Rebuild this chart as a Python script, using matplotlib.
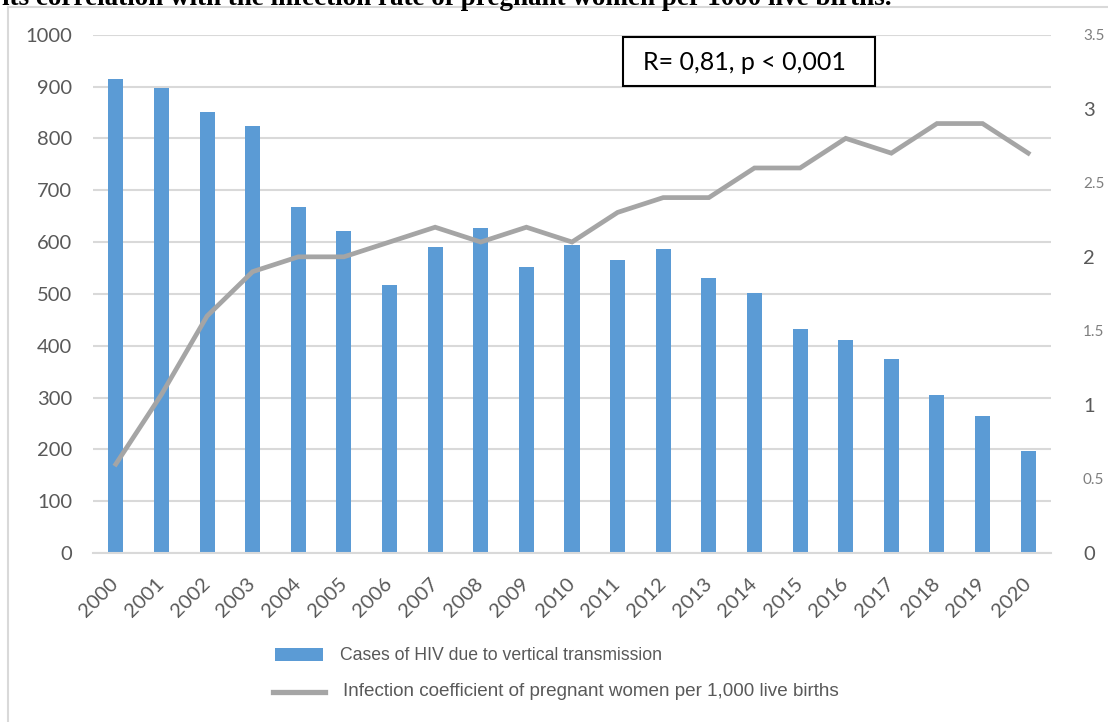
import matplotlib.pyplot as plt
from matplotlib.patches import Rectangle
from matplotlib.lines import Line2D

# data
years = [str(y) for y in range(2000, 2021)]
hiv_cases = [914, 898, 850, 824, 668, 622, 518, 590, 628, 551, 595,
             566, 586, 530, 501, 432, 410, 374, 304, 264, 196]
infection_coef = [0.6, 1.07, 1.6, 1.9, 2.0, 2.0, 2.1, 2.2, 2.1, 2.2, 2.1,
                  2.3, 2.4, 2.4, 2.6, 2.6, 2.8, 2.7, 2.9, 2.9, 2.7]
left_ticks = list(range(0, 1001, 100))
right_ticks = [0, 0.5, 1, 1.5, 2, 2.5, 3, 3.5]
right_labels = ['0', '0.5', '1', '1.5', '2', '2.5', '3', '3.5']

W, H = 1108, 722
fx = lambda px: px / W
fy = lambda py: 1 - py / H

bar_color = '#5B9BD5'
line_color = '#A5A5A5'
grid_color = '#D9D9D9'
tick_color = '#595959'

fig = plt.figure(figsize=(W / 100, H / 100), dpi=100)

# outer frame (only top and left visible in the crop)
fig.add_artist(Line2D([fx(8), fx(8)], [0, fy(7)], color=grid_color, lw=1.5))
fig.add_artist(Line2D([fx(8), 1], [fy(7), fy(7)], color=grid_color, lw=1.5))

# cropped caption at the very top
fig.text(fx(2), fy(5), 'its correlation with the infection rate of pregnant women per 1000 live births.',
         family='Liberation Serif', weight='bold', fontsize=19.5, va='baseline', ha='left')

ax = fig.add_axes([fx(93), fy(553), fx(1051) - fx(93), fy(34.7) - fy(553)])
x = list(range(len(years)))
ax.bar(x, hiv_cases, width=0.33, color=bar_color, zorder=2)
ax.set_xlim(-0.5, len(years) - 0.5)
ax.set_ylim(0, 1000)
ax.set_yticks(left_ticks)
ax.yaxis.grid(True, color=grid_color, lw=1.5, zorder=0)
ax.set_axisbelow(True)
for s in ['top', 'left', 'right']:
    ax.spines[s].set_visible(False)
ax.spines['bottom'].set_color(grid_color)
ax.spines['bottom'].set_linewidth(1.5)
ax.tick_params(axis='y', length=0, pad=15, labelsize=14.5, labelcolor=tick_color)
for lab in ax.get_yticklabels():
    lab.set_family('Lato')
ax.set_xticks(x)
ax.set_xticklabels(years, rotation=45, ha='right', va='center',
                   rotation_mode='anchor', family='Lato', fontsize=14.5, color=tick_color)
ax.tick_params(axis='x', length=0, pad=20)

ax2 = ax.twinx()
ax2.plot(x, infection_coef, color=line_color, lw=3.4, solid_joinstyle='miter', zorder=3)
ax2.set_ylim(0, 3.5)
ax2.set_yticks(right_ticks)
ax2.set_yticklabels(right_labels)
for s in ['top', 'left', 'right', 'bottom']:
    ax2.spines[s].set_visible(False)
ax2.tick_params(axis='y', length=0, pad=23)
for lab, v in zip(ax2.get_yticklabels(), right_ticks):
    if float(v).is_integer():
        lab.set_fontsize(14.5)
        lab.set_color(tick_color)
    else:
        lab.set_fontsize(11)
        lab.set_color('#7F7F7F')
    lab.set_family('Lato')

# correlation box
fig.add_artist(Rectangle((fx(623), fy(86)), fx(875) - fx(623), fy(37) - fy(86),
                         facecolor='white', edgecolor='black', lw=1.5, zorder=5))
fig.text(fx(643), fy(62), 'R= 0,81, p < 0,001', family='Lato', fontsize=18,
         va='center', ha='left', zorder=6)

# legend below the chart
fig.add_artist(Rectangle((fx(275), fy(661)), fx(323) - fx(275), fy(648) - fy(661),
                         facecolor=bar_color, edgecolor='none'))
fig.text(fx(340), fy(655), 'Cases of HIV due to vertical transmission',
         family='Liberation Sans', fontsize=12.7, color=tick_color, va='center')
fig.add_artist(Line2D([fx(273), fx(325)], [fy(692), fy(692)], color=line_color, lw=3.8))
fig.text(fx(343), fy(692), 'Infection coefficient of pregnant women per 1,000 live births',
         family='Liberation Sans', fontsize=13.6, color=tick_color, va='center')

fig.savefig('out.png', dpi=100)
